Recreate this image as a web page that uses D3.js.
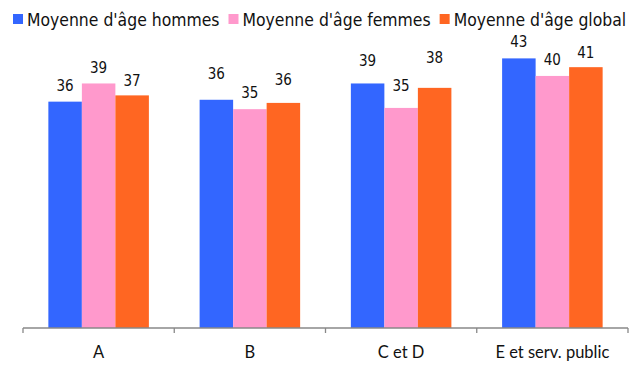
<!DOCTYPE html>
<html lang="fr">
<head>
    <meta charset="UTF-8">
    <title>Moyenne d'âge</title>
    <script src="https://d3js.org/d3.v7.min.js"></script>
    <style>
        body {
            margin: 0;
            background-color: white;
        }
        .legend-text {
            font-family: "DejaVu Sans Condensed", "DejaVu Sans", sans-serif;
            font-size: 17.4px;
            fill: #111;
        }
        .value-label {
            font-family: "DejaVu Sans Condensed", "DejaVu Sans", sans-serif;
            font-size: 15px;
            fill: #111;
        }
        .cat-label {
            font-family: Lato, "Open Sans", sans-serif;
            font-size: 16.5px;
            fill: #111;
        }
    </style>
</head>
<body>
    <div id="chart"></div>

    <script>
        // Data (bar heights, labels as printed)
        const categories = ["A", "B", "C et D", "E et serv. public"];
        const seriesNames = ["Moyenne d'âge hommes", "Moyenne d'âge femmes", "Moyenne d'âge global"];
        const hommes = [36.1, 36.4, 39.0, 43.0];
        const femmes = [39.0, 34.9, 35.1, 40.2];
        const global = [37.1, 35.9, 38.3, 41.6];
        const hommesLabels = ["36", "36", "39", "43"];
        const femmesLabels = ["39", "35", "35", "40"];
        const globalLabels = ["37", "36", "38", "41"];
        const seriesValues = [hommes, femmes, global];
        const seriesLabels = [hommesLabels, femmesLabels, globalLabels];

        const colors = ["#3366ff", "#ff99cc", "#ff6622"];

        // the original chart has some labels nudged by hand (px above the bar top)
        const labelLift = [
            [16, 26, 23, 17],
            [16, 17, 22, 16],
            [15, 23, 30, 15]
        ];

        const width = 638, height = 369;

        const svg = d3.select("#chart")
            .append("svg")
            .attr("width", width)
            .attr("height", height);

        // Scales
        const x = d3.scaleBand()
            .domain(categories)
            .range([23, 628]);

        const xInner = d3.scaleBand()
            .domain(seriesNames)
            .range([0, x.bandwidth()])
            .paddingInner(0)
            .paddingOuter(0.757);

        const y = d3.scaleLinear()
            .domain([0, 50])
            .range([328, 14.5]);

        // Bars
        const rows = [];
        seriesValues.forEach((vals, s) => {
            vals.forEach((v, c) => rows.push({s, c, v, label: seriesLabels[s][c]}));
        });

        svg.append("g")
            .selectAll("rect")
            .data(rows)
            .enter()
            .append("rect")
            .attr("x", d => x(categories[d.c]) + xInner(seriesNames[d.s]))
            .attr("y", d => y(d.v))
            .attr("width", xInner.bandwidth())
            .attr("height", d => y(0) - y(d.v))
            .attr("fill", d => colors[d.s]);

        // Value labels
        svg.append("g")
            .selectAll("text")
            .data(rows)
            .enter()
            .append("text")
            .attr("class", "value-label")
            .attr("text-anchor", "middle")
            .attr("x", d => x(categories[d.c]) + xInner(seriesNames[d.s]) + xInner.bandwidth() / 2)
            .attr("y", d => y(d.v) - labelLift[d.s][d.c])
            .attr("dy", "0.36em")
            .text(d => d.label);

        // X axis
        const axis = svg.append("g")
            .attr("transform", `translate(0,${y(0)})`);

        axis.append("line")
            .attr("x1", 23).attr("x2", 628)
            .attr("y1", 0).attr("y2", 0)
            .attr("stroke", "#888")
            .attr("stroke-width", 1.3);

        const tickPos = categories.map(c => x(c)).concat([x.range()[1]]);
        axis.selectAll(".tick")
            .data(tickPos)
            .enter()
            .append("line")
            .attr("x1", d => d).attr("x2", d => d)
            .attr("y1", 0).attr("y2", 5)
            .attr("stroke", "#888")
            .attr("stroke-width", 1.3);

        axis.selectAll(".cat-label")
            .data(categories)
            .enter()
            .append("text")
            .attr("class", "cat-label")
            .attr("text-anchor", "middle")
            .attr("x", d => x(d) + x.bandwidth() / 2)
            .attr("y", 30)
            .text(d => d);

        // Legend
        const legend = svg.append("g");
        let lx = 13;
        seriesNames.forEach((name, i) => {
            legend.append("rect")
                .attr("x", lx)
                .attr("y", 14)
                .attr("width", 10)
                .attr("height", 10)
                .attr("fill", colors[i]);
            const t = legend.append("text")
                .attr("class", "legend-text")
                .attr("x", lx + 14)
                .attr("y", 20)
                .attr("dy", "0.36em")
                .text(name);
            lx += 14 + t.node().getComputedTextLength() + 9;
        });
    </script>
</body>
</html>
